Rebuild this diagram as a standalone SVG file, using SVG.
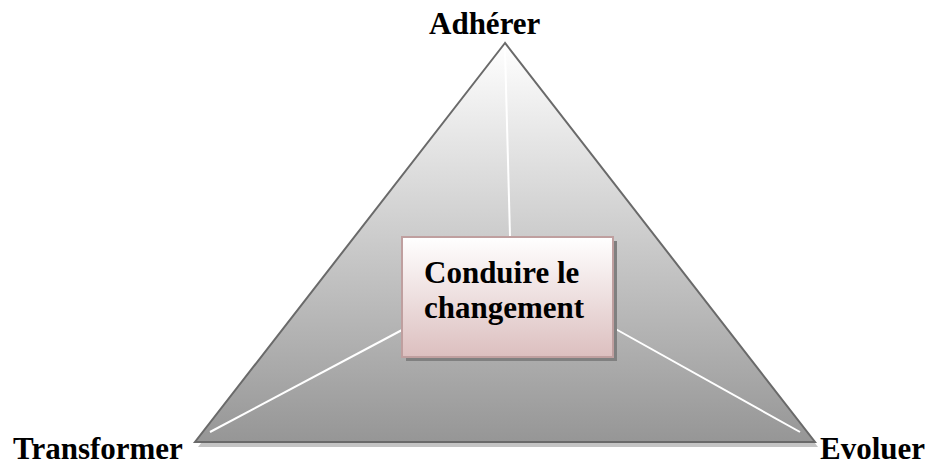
<svg xmlns="http://www.w3.org/2000/svg" width="932" height="466" viewBox="0 0 932 466">
<defs>
<linearGradient id="tri" x1="0" y1="43" x2="0" y2="442" gradientUnits="userSpaceOnUse">
<stop offset="0" stop-color="#ffffff"/>
<stop offset="1" stop-color="#969696"/>
</linearGradient>
<linearGradient id="box" x1="0" y1="0" x2="0" y2="1">
<stop offset="0" stop-color="#ffffff"/>
<stop offset="1" stop-color="#dcbfbf"/>
</linearGradient>
<style>
.lbl{font-family:"Liberation Serif","Times New Roman",serif;font-weight:bold;font-size:31px;fill:#000}
.conn{stroke:#ffffff;stroke-width:2;fill:none}
</style>
</defs>
<g id="pyramid">
<polygon points="508,48 198,447 818,447" fill="#c4c4c4"/>
<polygon points="505,43 195,442 815,442" fill="url(#tri)" stroke="#6a6a6a" stroke-width="2" stroke-linejoin="miter"/>
</g>
<g id="connectors">
<line class="conn" x1="505" y1="50" x2="510" y2="236"/>
<line class="conn" x1="210" y1="432" x2="402" y2="330"/>
<line class="conn" x1="612" y1="327" x2="800" y2="432"/>
</g>
<g id="center">
<rect x="406" y="241" width="211" height="120" fill="#808080"/>
<rect x="402" y="237" width="211" height="120" fill="url(#box)" stroke="#bf9f9f" stroke-width="2"/>
<text class="lbl" x="424" y="283">Conduire le</text>
<text class="lbl" x="424" y="318">changement</text>
</g>
<g id="adherer"><text class="lbl" x="429" y="34">Adhérer</text></g>
<g id="transformer"><text class="lbl" x="13" y="459">Transformer</text></g>
<g id="evoluer"><text class="lbl" x="820" y="459">Evoluer</text></g>
</svg>
